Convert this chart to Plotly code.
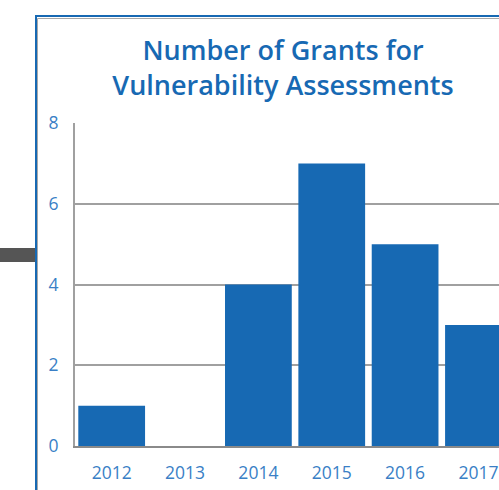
import plotly.graph_objects as go

years = ["2012", "2013", "2014", "2015", "2016", "2017"]
grants = [1, 0, 4, 7, 5, 3]
y_ticks = [0, 2, 4, 6, 8]

BLUE = "#1769b3"
LABEL = "#3a7fc6"
FONT = "Open Sans, Noto Sans, DejaVu Sans, sans-serif"

fig = go.Figure(go.Bar(x=years, y=grants, marker=dict(color=BLUE, line=dict(width=0))))

W, H = 499, 490
L, R, T, B = 75, 0, 123, 44
pw, ph = W - L - R, H - T - B

def px(x):
    return (x - L) / pw

def py(y):
    return (H - B - y) / ph

shapes = [
    # gray connector bar at left
    dict(type="rect", xref="paper", yref="paper", x0=px(0), x1=px(35), y0=py(262), y1=py(248),
         fillcolor="#555555", line=dict(width=0), layer="above"),
    # gray inner frame
    dict(type="line", xref="paper", yref="paper", x0=px(37.5), x1=px(37.5), y0=py(18.5), y1=py(500),
         line=dict(color="#a8a8a8", width=1)),
    dict(type="line", xref="paper", yref="paper", x0=px(37.5), x1=px(520), y0=py(18.5), y1=py(18.5),
         line=dict(color="#a8a8a8", width=1)),
    # blue frame
    dict(type="line", xref="paper", yref="paper", x0=px(36), x1=px(36), y0=py(15), y1=py(500),
         line=dict(color=BLUE, width=2)),
    dict(type="line", xref="paper", yref="paper", x0=px(35), x1=px(520), y0=py(16), y1=py(16),
         line=dict(color=BLUE, width=2)),
]

fig.update_layout(
    width=W, height=H,
    margin=dict(l=L, r=R, t=T, b=B, pad=0),
    paper_bgcolor="white", plot_bgcolor="white",
    bargap=0.09,
    showlegend=False,
    font=dict(family=FONT),
    title=dict(
        text="Number of Grants for<br>Vulnerability Assessments",
        x=283 / W, xanchor="center", y=1 - 60 / H, yanchor="top",
        font=dict(family=FONT, size=27, color=BLUE, weight=600),
    ),
    shapes=shapes,
    xaxis=dict(
        type="category", range=[-0.5, 5.28],
        showgrid=False, showline=True, linecolor="#8a8a8a", linewidth=2,
        ticks="", tickfont=dict(size=17.5, color=LABEL, family=FONT),
        ticklabelstandoff=10, fixedrange=True,
    ),
    yaxis=dict(
        range=[0, 8], tickvals=y_ticks,
        showgrid=True, gridcolor="#a0a0a0", gridwidth=1.5,
        showline=True, linecolor="#a0a0a0", linewidth=2, zeroline=False,
        ticks="", tickfont=dict(size=17.5, color=LABEL, family=FONT),
        ticklabelstandoff=11, fixedrange=True,
    ),
)

fig.write_html(
    "out.html",
    config={"displayModeBar": False},
    post_script="document.body.style.margin='0';document.body.style.overflow='hidden';",
)
